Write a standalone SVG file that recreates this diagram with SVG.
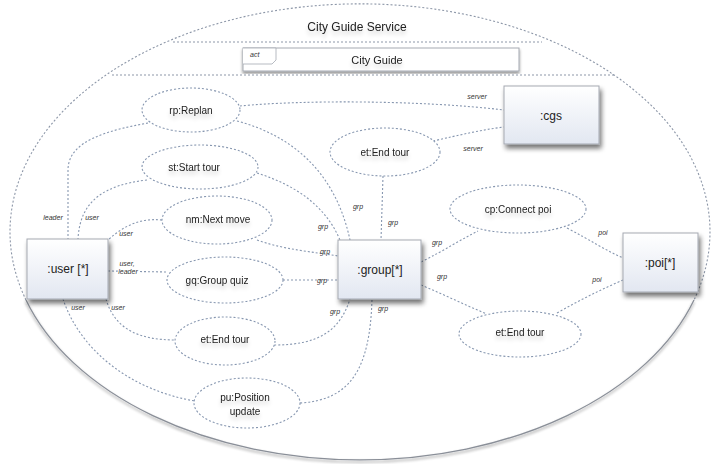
<svg xmlns="http://www.w3.org/2000/svg" width="714" height="464" viewBox="0 0 714 464">
  <style>
    .t { font-family: "Liberation Sans", Arial, sans-serif; fill: #222; text-anchor: middle; }
    .title { font-size: 12px; }
    .node { font-size: 12px; }
    .uc { font-size: 10px; }
    .lbl { font-family: "Liberation Sans", Arial, sans-serif; font-size: 7px; font-style: italic; fill: #333; text-anchor: middle; }
    .halo { paint-order: stroke; stroke: #fff; stroke-width: 2px; }
    .conn { fill: none; stroke: #8797b0; stroke-width: 1.1; stroke-dasharray: 2 2; }
    .usecase { fill: #fff; stroke: #8797b0; stroke-width: 1.1; stroke-dasharray: 2 2; }
    .part { fill: url(#boxFill); stroke: #a5a9b2; stroke-width: 1; }
    .chord { fill: none; stroke: #8d97a8; stroke-width: 1; stroke-dasharray: 2 2; }
  </style>
  <defs>
    <linearGradient id="boxFill" x1="0" y1="0" x2="0" y2="1">
      <stop offset="0" stop-color="#ffffff"/>
      <stop offset="1" stop-color="#e2e7f1"/>
    </linearGradient>
    <filter id="boxShadow" x="-20%" y="-20%" width="150%" height="160%">
      <feGaussianBlur in="SourceAlpha" stdDeviation="2.5"/>
      <feOffset dx="2" dy="4" result="b"/>
      <feComponentTransfer><feFuncA type="linear" slope="0.55"/></feComponentTransfer>
      <feMerge><feMergeNode/><feMergeNode in="SourceGraphic"/></feMerge>
    </filter>
    <filter id="rimShadow" x="-5%" y="-5%" width="110%" height="115%">
      <feGaussianBlur in="SourceAlpha" stdDeviation="1.5"/>
      <feOffset dx="0" dy="2"/>
      <feComponentTransfer><feFuncA type="linear" slope="0.45"/></feComponentTransfer>
      <feMerge><feMergeNode/><feMergeNode in="SourceGraphic"/></feMerge>
    </filter>
    <filter id="textSoft" x="-10%" y="-30%" width="120%" height="190%">
      <feGaussianBlur in="SourceAlpha" stdDeviation="2"/>
      <feOffset dx="0" dy="4"/>
      <feComponentTransfer><feFuncA type="linear" slope="0.18"/></feComponentTransfer>
      <feMerge><feMergeNode/><feMergeNode in="SourceGraphic"/></feMerge>
    </filter>
  </defs>

  <rect width="714" height="464" fill="#fff"/>

  <!-- collaboration boundary -->
  <g id="boundary">
    <path d="M26,300 A350,228 0 1 1 694,300" fill="none" stroke="#8d97a8" stroke-width="1.1" stroke-dasharray="2 2"/>
    <path d="M26,300 A350,228 0 0 0 694,300" fill="none" stroke="#8a8f98" stroke-width="1.3" filter="url(#rimShadow)"/>
    <text class="t title" x="357" y="31" filter="url(#textSoft)">City Guide Service</text>
    <line class="chord" x1="173" y1="42" x2="542" y2="42"/>
    <line class="chord" x1="112" y1="75" x2="614" y2="75"/>
  </g>

  <!-- activity frame -->
  <g id="act-frame">
    <rect x="243" y="48" width="276" height="23" fill="#fff" stroke="#a5a9b2" stroke-width="1" filter="url(#rimShadow)"/>
    <path d="M243,48 H276 V60 L272,64 H243" fill="#fff" stroke="#a5a9b2" stroke-width="0.8"/>
    <text x="250" y="57" font-family="Liberation Sans, Arial, sans-serif" font-size="7" font-style="italic" fill="#333">act</text>
    <text class="t" x="377" y="64" font-size="11" filter="url(#textSoft)">City Guide</text>
  </g>

  <!-- connectors -->
  <g id="connectors">
    <path class="conn" d="M240,106 C300,100 420,100 504,110"/>
    <path class="conn" d="M433,141 C460,135 480,130 504,127"/>
    <path class="conn" d="M148,123 C110,130 68,140 68,170 V239"/>
    <path class="conn" d="M147,180 C105,185 80,200 78,239"/>
    <path class="conn" d="M162,220 C140,218 125,225 108,240"/>
    <path class="conn" d="M108,271 L167,272"/>
    <path class="conn" d="M106,299 C115,330 140,340 176,340"/>
    <path class="conn" d="M63,299 C80,350 130,390 195,401"/>
    <path class="conn" d="M237,121 C290,135 335,170 350,240"/>
    <path class="conn" d="M257,173 C295,185 325,205 340,240"/>
    <path class="conn" d="M257,240 C285,250 315,252 338,256"/>
    <path class="conn" d="M283,280 L338,280"/>
    <path class="conn" d="M274,345 C320,345 340,330 350,299"/>
    <path class="conn" d="M300,403 C350,400 370,370 372,299"/>
    <path class="conn" d="M383,176 L381,240"/>
    <path class="conn" d="M421,262 C445,250 460,240 478,231"/>
    <path class="conn" d="M421,285 C445,295 465,305 487,314"/>
    <path class="conn" d="M567,228 C590,240 605,250 623,258"/>
    <path class="conn" d="M557,313 C580,300 600,290 623,280"/>

    <text class="lbl" x="477" y="99">server</text>
    <text class="lbl" x="473" y="151">server</text>
    <text class="lbl" x="53" y="220">leader</text>
    <text class="lbl" x="92" y="220">user</text>
    <text class="lbl" x="126" y="236">user</text>
    <text class="lbl halo" x="127" y="266">user,</text>
    <text class="lbl halo" x="128" y="274">leader</text>
    <text class="lbl" x="78" y="310">user</text>
    <text class="lbl" x="118" y="310">user</text>
    <text class="lbl" x="358" y="209">grp</text>
    <text class="lbl" x="323" y="229">grp</text>
    <text class="lbl" x="393" y="225">grp</text>
    <text class="lbl" x="325" y="254">grp</text>
    <text class="lbl" x="322" y="283">grp</text>
    <text class="lbl" x="335" y="314">grp</text>
    <text class="lbl" x="383" y="311">grp</text>
    <text class="lbl" x="437" y="245">grp</text>
    <text class="lbl" x="442" y="279">grp</text>
    <text class="lbl" x="603" y="235">poi</text>
    <text class="lbl" x="597" y="282">poi</text>
  </g>

  <!-- use cases -->
  <g id="rp-replan">
    <ellipse class="usecase" cx="191" cy="110" rx="49" ry="22"/>
    <text class="t uc" x="191" y="114" filter="url(#textSoft)">rp:Replan</text>
  </g>
  <g id="st-start-tour">
    <ellipse class="usecase" cx="200" cy="167" rx="58" ry="22"/>
    <text class="t uc" x="194" y="171" filter="url(#textSoft)">st:Start tour</text>
  </g>
  <g id="nm-next-move">
    <ellipse class="usecase" cx="217" cy="220" rx="55" ry="24"/>
    <text class="t uc" x="218" y="223" filter="url(#textSoft)">nm:Next move</text>
  </g>
  <g id="gq-group-quiz">
    <ellipse class="usecase" cx="225" cy="280" rx="58" ry="23"/>
    <text class="t uc" x="217" y="284" filter="url(#textSoft)">gq:Group quiz</text>
  </g>
  <g id="et-end-tour-user">
    <ellipse class="usecase" cx="225" cy="341" rx="50" ry="24"/>
    <text class="t uc" x="225" y="343" filter="url(#textSoft)">et:End tour</text>
  </g>
  <g id="pu-position-update">
    <ellipse class="usecase" cx="247" cy="403" rx="53" ry="25"/>
    <text class="t uc" x="245" y="401" filter="url(#textSoft)">pu:Position</text>
    <text class="t uc" x="245" y="415" filter="url(#textSoft)">update</text>
  </g>
  <g id="et-end-tour-server">
    <ellipse class="usecase" cx="385" cy="152" rx="55" ry="24"/>
    <text class="t uc" x="385" y="156" filter="url(#textSoft)">et:End tour</text>
  </g>
  <g id="cp-connect-poi">
    <ellipse class="usecase" cx="518" cy="209" rx="68" ry="24"/>
    <text class="t uc" x="518" y="213" filter="url(#textSoft)">cp:Connect poi</text>
  </g>
  <g id="et-end-tour-poi">
    <ellipse class="usecase" cx="520" cy="334" rx="61" ry="23"/>
    <text class="t uc" x="520" y="336" filter="url(#textSoft)">et:End tour</text>
  </g>

  <!-- parts -->
  <g id="cgs">
    <rect class="part" x="504" y="86" width="95" height="58" filter="url(#boxShadow)"/>
    <text class="t node" x="551" y="120">:cgs</text>
  </g>
  <g id="user">
    <rect class="part" x="27" y="239" width="81" height="60" filter="url(#boxShadow)"/>
    <text class="t node" x="68" y="273">:user [*]</text>
  </g>
  <g id="group">
    <rect class="part" x="338" y="240" width="83" height="59" filter="url(#boxShadow)"/>
    <text class="t node" x="380" y="274">:group[*]</text>
  </g>
  <g id="poi">
    <rect class="part" x="623" y="233" width="75" height="59" filter="url(#boxShadow)"/>
    <text class="t node" x="660" y="267">:poi[*]</text>
  </g>
</svg>
